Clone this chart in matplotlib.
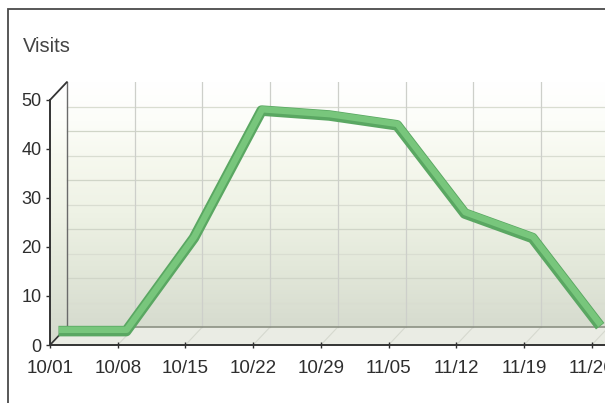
import matplotlib
matplotlib.use("Agg")
import matplotlib.pyplot as plt
import matplotlib.transforms as mtransforms
import numpy as np
from matplotlib.patches import Polygon, Rectangle
from matplotlib.colors import LinearSegmentedColormap

plt.rcParams['font.family'] = ['Liberation Sans', 'DejaVu Sans']

# weekly visits
dates = ["10/01", "10/08", "10/15", "10/22", "10/29", "11/05", "11/12", "11/19", "11/26"]
visits = [1, 1, 20, 46, 45, 43, 25, 20, 2]
y_ticks = [0, 10, 20, 30, 40, 50]
y_top = 50

# depth of the pseudo-3D box, in data units (x: weeks, y: visits)
DEPTH_X = 0.25
DEPTH_Y = 3.67
X_END = 8.27

W, H = 605, 403
fig = plt.figure(figsize=(W / 100, H / 100), dpi=100)
fig.patch.set_facecolor('white')

# outer frame
fig.add_artist(Rectangle((8 / W, -0.2), 1.2, 1.2 - 9 / H, transform=fig.transFigure,
                         fill=False, edgecolor='#4a4a4a', lw=1.3))

ax = fig.add_axes([50 / W, 58 / H, 560 / W, 263 / H])
ax.set_facecolor('none')

xs = np.arange(len(dates))
vals = np.array(visits, dtype=float)

# back + side wall gradient
wall = Polygon([(0, 0), (0, y_top), (DEPTH_X, y_top + DEPTH_Y),
                (X_END, y_top + DEPTH_Y), (X_END, 0)], closed=True,
               transform=ax.transData, facecolor='none', edgecolor='none')
ax.add_patch(wall)
cmap = LinearSegmentedColormap.from_list(
    'wall', [(0.0, '#d4d9cc'), (0.1, '#d8ddd0'), (0.3, '#e3e8da'),
             (0.5, '#eef2e5'), (0.7, '#f6f8ee'), (0.85, '#fcfdf9'), (1.0, '#ffffff')])
grad = np.linspace(0, 1, 256).reshape(-1, 1)
im = ax.imshow(grad, cmap=cmap, origin='lower', aspect='auto', interpolation='bilinear',
               extent=[0, X_END, 0, y_top + DEPTH_Y], zorder=0)
im.set_clip_path(wall)
ax.set_xlim(0, X_END)
ax.set_ylim(0, y_top + DEPTH_Y)

# floor
ax.add_patch(Polygon([(0, 0), (DEPTH_X, DEPTH_Y), (X_END, DEPTH_Y), (X_END, 0)],
                     closed=True, facecolor='#eaece4', edgecolor='none', zorder=1))
for x in xs:
    ax.plot([x, x + DEPTH_X], [0, DEPTH_Y], color='#d6d9cf', lw=0.8, zorder=1.5)

# horizontal grid on the back wall
for v in np.arange(5, y_top, 5):
    ax.plot([DEPTH_X, X_END], [v + DEPTH_Y, v + DEPTH_Y],
            color='#d9ddd1' if v % 10 else '#d0d5c8', lw=0.9, zorder=1.5)

# vertical grid on the back wall
for x in xs[1:]:
    ax.plot([x + DEPTH_X, x + DEPTH_X], [DEPTH_Y, y_top + DEPTH_Y],
            color='#cdcfca', lw=0.9, zorder=1.6)

# box edges
ax.plot([DEPTH_X, X_END], [DEPTH_Y, DEPTH_Y], color='#8c9184', lw=1.2, zorder=2)
ax.plot([DEPTH_X, DEPTH_X], [DEPTH_Y, y_top + DEPTH_Y], color='#6a6a6a', lw=1.0, zorder=2)
ax.plot([0, DEPTH_X], [y_top, y_top + DEPTH_Y], color='#333333', lw=1.3, zorder=3,
        clip_on=False, solid_capstyle='round')
ax.plot([0, DEPTH_X], [0, DEPTH_Y], color='#333333', lw=1.2, zorder=3)
ax.plot([0, 0], [0, y_top], color='#333333', lw=1.4, zorder=3, clip_on=False)

# visits line, drawn at mid depth as a shaded tube
mx = xs + 0.5 * DEPTH_X
my = vals + 0.5 * DEPTH_Y
lift = mtransforms.offset_copy(ax.transData, fig=fig, x=0.5, y=1.3, units='dots')
ax.plot(mx, my, color='#5aa762', lw=7.6, zorder=5, solid_joinstyle='round',
        solid_capstyle='butt', clip_on=False)
ax.plot(mx, my, color='#78c67c', lw=4.6, zorder=6, solid_joinstyle='round',
        solid_capstyle='butt', clip_on=False, transform=lift)

# axes, ticks, labels
for s in ['top', 'right', 'left']:
    ax.spines[s].set_visible(False)
ax.spines['bottom'].set_color('#333333')
ax.spines['bottom'].set_linewidth(1.4)

ax.set_xticks(xs, dates)
ax.set_yticks(y_ticks, [str(t) for t in y_ticks])
ax.tick_params(axis='x', direction='inout', length=5, width=1.0, colors='#2e2e2e',
               labelsize=13.5, pad=8)
ax.tick_params(axis='y', direction='out', length=3, width=1.0, colors='#2e2e2e',
               labelsize=13, pad=3)
for lbl in ax.get_xticklabels() + ax.get_yticklabels():
    lbl.set_clip_on(False)

fig.text(23 / W, 1 - 47 / H, 'Visits', ha='left', va='center', fontsize=14.5, color='#444444')

fig.savefig('out.png', dpi=100)
